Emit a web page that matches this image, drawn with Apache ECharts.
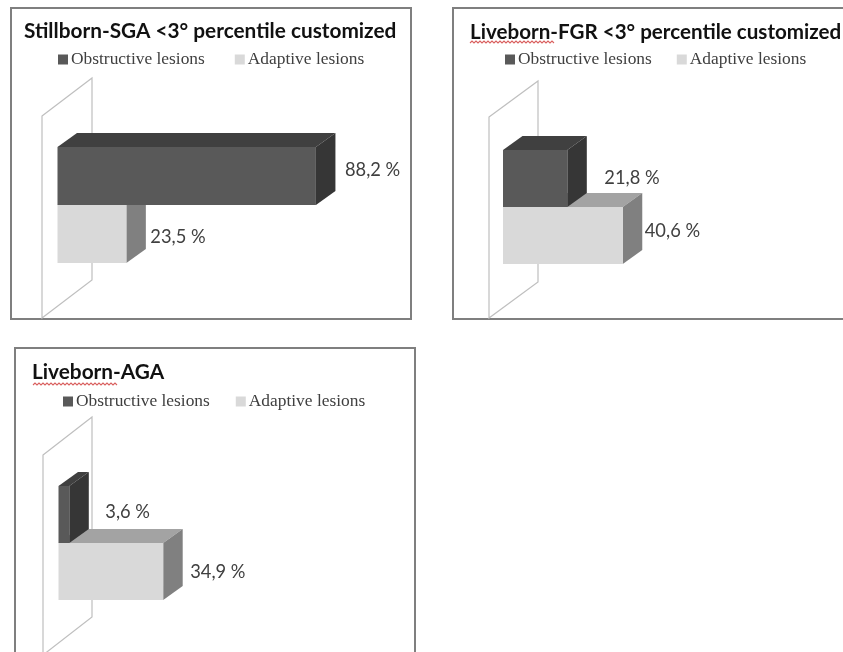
<!DOCTYPE html>
<html>
<head>
<meta charset="utf-8">
<style>html,body{margin:0;padding:0;background:#fff;overflow:hidden}#c{width:843px;height:652px}</style>
<script src="https://cdn.jsdelivr.net/npm/echarts@6/dist/echarts.min.js"></script>
</head>
<body>
<div id="c"></div>
<script>
const panelTitles = ['Stillborn-SGA <3° percentile customized', 'Liveborn-FGR <3° percentile customized', 'Liveborn-AGA'];
const seriesNames = ['Obstructive lesions', 'Adaptive lesions'];
const obstructive = [88.2, 21.8, 3.6];
const adaptive = [23.5, 40.6, 34.9];

const layout = [
  {box:[11,8,400,311], titleX:24, titleY:31, titleSize:20.8, grid:[57.5,147,293,116], wall:[42,116,202], wallDx:50, wallDy:-38,
   legend:[58,51,30], nudge:[[29,-6],[24,3]], squiggle:null},
  {box:[453,8,420,311], titleX:470, titleY:32, titleSize:20.6, grid:[503,150,295,114], wall:[489,117,201], wallDx:49, wallDy:-36,
   legend:[505,51,25], nudge:[[37,0],[22,-4]], squiggle:[470,42,85]},
  {box:[15,348,400,320], titleX:32, titleY:372, titleSize:20.8, grid:[58.5,486,300,114], wall:[43,455,200], wallDx:49, wallDy:-38,
   legend:[63,393,26], nudge:[[36,-2],[27,1]], squiggle:[33,384,84]}
];
const depth = [19.5, -14];
const faces = [
  {front:'#595959', top:'#404040', side:'#363636'},
  {front:'#d9d9d9', top:'#a3a3a3', side:'#808080'}
];
const labelFont = '18.3px Lato';
const fmt = v => v.toFixed(1).replace('.', ',') + ' %';

function makeRender(panel, idx) {
  return function (params, api) {
    const v = api.value(0), cat = api.value(1);
    const end = api.coord([v, cat]);
    const start = api.coord([0, cat]);
    const h = api.size([0, 1])[1];
    const x0 = start[0], x1 = end[0], y0 = end[1] - h / 2, y1 = end[1] + h / 2;
    const [dx, dy] = depth, f = faces[idx], n = layout[panel].nudge[idx];
    return {type:'group', children:[
      {type:'polygon', shape:{points:[[x0,y0],[x0+dx,y0+dy],[x1+dx,y0+dy],[x1,y0]]}, style:{fill:f.top}},
      {type:'polygon', shape:{points:[[x1,y0],[x1+dx,y0+dy],[x1+dx,y1+dy],[x1,y1]]}, style:{fill:f.side}},
      {type:'rect', shape:{x:x0, y:y0, width:x1-x0, height:y1-y0}, style:{fill:f.front}},
      {type:'text', style:{text:fmt(v), x:x1+n[0], y:end[1]+n[1], font:labelFont, fill:'#404040', verticalAlign:'middle', align:'left'}}
    ]};
  };
}

const grids=[], xAxes=[], yAxes=[], series=[], legends=[], titles=[], graphics=[];
layout.forEach((p, i) => {
  grids.push({left:p.grid[0], top:p.grid[1], width:p.grid[2], height:p.grid[3], containLabel:false});
  xAxes.push({type:'value', gridIndex:i, min:0, max:100, show:false});
  yAxes.push({type:'category', gridIndex:i, data:seriesNames, inverse:true, show:false});
  titles.push({text:panelTitles[i], left:p.titleX, top:p.titleY-13, padding:0,
    textStyle:{fontFamily:'Lato', fontWeight:'bold', fontSize:p.titleSize, color:'#111', lineHeight:26}});
  legends.push({left:p.legend[0], top:p.legend[1], padding:0, itemGap:p.legend[2], itemWidth:10, itemHeight:10, icon:'rect',
    selectedMode:false, data:seriesNames, textStyle:{fontFamily:'Liberation Serif', fontSize:17.4, color:'#404040', padding:[0,0,0,-2]}});
  graphics.push({type:'rect', z:0, shape:{x:p.box[0], y:p.box[1], width:p.box[2], height:p.box[3]},
    style:{fill:'#fff', stroke:'#7f7f7f', lineWidth:2}});
  const [wx, wy, wh] = p.wall;
  graphics.push({type:'polygon', z:1, shape:{points:[[wx,wy],[wx+p.wallDx,wy+p.wallDy],[wx+p.wallDx,wy+p.wallDy+wh],[wx,wy+wh]]},
    style:{fill:'#fff', stroke:'#bfbfbf', lineWidth:1.2}});
  if (p.squiggle) {
    const [sx, sy, sw] = p.squiggle, pts = [];
    for (let k = 0; k <= sw / 2; k++) pts.push([sx + k * 2, sy + (k % 2 ? -1 : 1)]);
    graphics.push({type:'polyline', z:1, shape:{points:pts}, style:{fill:null, stroke:'#d9605f', lineWidth:1.1}});
  }
  [adaptive, obstructive].forEach((vals, k) => {
    const idx = k === 0 ? 1 : 0;
    series.push({type:'custom', name:seriesNames[idx], xAxisIndex:i, yAxisIndex:i, z:3+k,
      itemStyle:{color:faces[idx].front}, encode:{x:0, y:1}, clip:false,
      data:[[vals[i], idx]], renderItem:makeRender(i, idx)});
  });
});

const chart = echarts.init(document.getElementById('c'), null, {renderer:'canvas'});
chart.setOption({
  animation:false, backgroundColor:'#fff', tooltip:{show:false},
  title:titles, legend:legends, grid:grids, xAxis:xAxes, yAxis:yAxes, series:series,
  graphic:{elements:graphics}
});
</script>
</body>
</html>
